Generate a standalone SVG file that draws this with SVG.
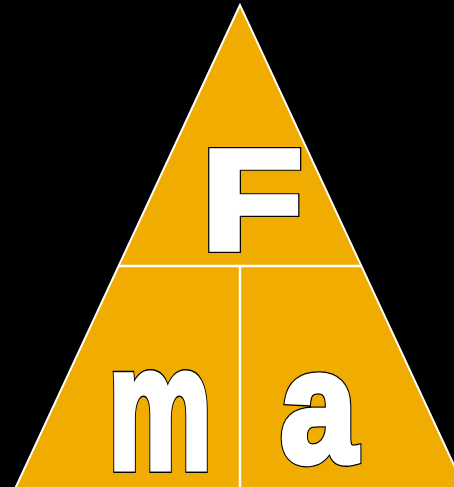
<svg xmlns="http://www.w3.org/2000/svg" width="454" height="487" viewBox="0 0 454 487">
<style>
.div{stroke:#ffffff;stroke-width:2.5;fill:none}
.ltr{font-family:"Liberation Sans",Arial,sans-serif;font-weight:bold;font-size:100px}
.out{fill:#000000;stroke:#000000;stroke-width:8.4;stroke-linejoin:miter;stroke-miterlimit:4;vector-effect:non-scaling-stroke}
.in{fill:#ffffff;stroke:#ffffff;stroke-width:6;stroke-linejoin:miter;stroke-miterlimit:4;vector-effect:non-scaling-stroke}
</style>
<rect x="0" y="0" width="454" height="487" fill="#000000"/>
<g id="triangle">
<polygon points="240,5 14,491 466,491" fill="#F0AC00" stroke="#ffffff" stroke-width="2"/>
</g>
<g id="connectors">
<line class="div" x1="119" y1="266" x2="361" y2="266"/>
<line class="div" x1="240" y1="266" x2="240" y2="490"/>
</g>
<g id="node-F" transform="translate(201.5,248.5) scale(1.66,1.43)">
<text class="ltr out" vector-effect="non-scaling-stroke">F</text>
<text class="ltr in" vector-effect="non-scaling-stroke">F</text>
</g>
<g id="node-m" transform="translate(108.5,467.8) scale(1.16,1.75)">
<text class="ltr out" vector-effect="non-scaling-stroke">m</text>
<text class="ltr in" vector-effect="non-scaling-stroke">m</text>
</g>
<g id="node-a" transform="translate(280.6,460.9) scale(1.37,1.6)">
<text class="ltr out" vector-effect="non-scaling-stroke">a</text>
<text class="ltr in" vector-effect="non-scaling-stroke">a</text>
</g>
</svg>
